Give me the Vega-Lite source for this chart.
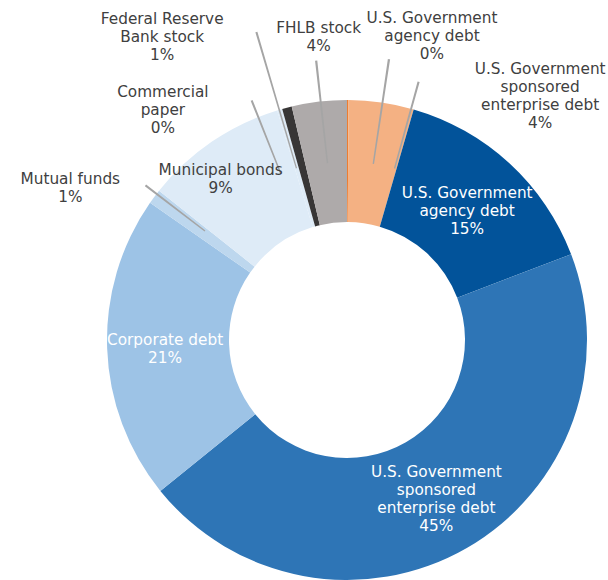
{
  "$schema": "https://vega.github.io/schema/vega-lite/v6.json",
  "width": 522,
  "height": 480,
  "autosize": {"type": "none"},
  "padding": {"left": 86, "top": 100, "right": 0, "bottom": 0},
  "background": "white",
  "config": {"view": {"stroke": null}},
  "data": {
    "values": [
      {"rank": 1, "segment": "agency0", "label": "U.S. Government\nagency debt\n0%", "value": 0.1},
      {"rank": 2, "segment": "gse4", "label": "U.S. Government\nsponsored\nenterprise debt\n4%", "value": 4.38},
      {"rank": 3, "segment": "agency15", "label": "U.S. Government\nagency debt\n15%", "value": 14.7},
      {"rank": 4, "segment": "gse45", "label": "U.S. Government\nsponsored\nenterprise debt\n45%", "value": 45.0},
      {"rank": 5, "segment": "corporate", "label": "Corporate debt\n21%", "value": 20.5},
      {"rank": 6, "segment": "mutual", "label": "Mutual funds\n1%", "value": 1.0},
      {"rank": 7, "segment": "municipal", "label": "Municipal bonds\n9%", "value": 9.62},
      {"rank": 8, "segment": "commercial", "label": "Commercial\npaper\n0%", "value": 0.35},
      {"rank": 9, "segment": "fed", "label": "Federal Reserve\nBank stock\n1%", "value": 0.65},
      {"rank": 10, "segment": "fhlb", "label": "FHLB stock\n4%", "value": 3.7}
    ]
  },
  "layer": [
    {
      "mark": {"type": "arc", "outerRadius": 240, "innerRadius": 118},
      "encoding": {
        "theta": {"field": "value", "type": "quantitative", "stack": true, "scale": {"domain": [0, 100]}},
        "order": {"field": "rank", "type": "quantitative"},
        "color": {
          "field": "segment", "type": "nominal", "legend": null,
          "scale": {
            "domain": ["agency0", "gse4", "agency15", "gse45", "corporate", "mutual", "municipal", "commercial", "fed", "fhlb"],
            "range": ["#ED7D31", "#F4B183", "#02539A", "#2E75B6", "#9DC3E6", "#BDD7EE", "#DEEBF7", "#DEEBF7", "#383636", "#AEAAAA"]
          }
        }
      }
    },
    {
      "transform": [{"stack": "value", "groupby": [], "sort": [{"field": "rank"}], "as": ["v0", "v1"]}, {"filter": "datum.segment === 'mutual'"}],
      "mark": {"type": "arc", "innerRadius": 179, "outerRadius": 254, "thetaOffset": 0.0423, "theta2Offset": 0.0503, "fill": "#A5A5A5"},
      "encoding": {"theta": {"field": "v0", "type": "quantitative", "scale": {"domain": [0, 100]}}, "theta2": {"field": "v0"}}
    },
    {
      "transform": [{"stack": "value", "groupby": [], "sort": [{"field": "rank"}], "as": ["v0", "v1"]}, {"filter": "datum.segment === 'commercial'"}],
      "mark": {"type": "arc", "innerRadius": 179, "outerRadius": 258, "thetaOffset": -0.0874, "theta2Offset": -0.0794, "fill": "#A5A5A5"},
      "encoding": {"theta": {"field": "v0", "type": "quantitative", "scale": {"domain": [0, 100]}}, "theta2": {"field": "v0"}}
    },
    {
      "transform": [{"stack": "value", "groupby": [], "sort": [{"field": "rank"}], "as": ["v0", "v1"]}, {"filter": "datum.segment === 'fed'"}],
      "mark": {"type": "arc", "innerRadius": 179, "outerRadius": 321, "thetaOffset": -0.0162, "theta2Offset": -0.0096, "fill": "#A5A5A5"},
      "encoding": {"theta": {"field": "v0", "type": "quantitative", "scale": {"domain": [0, 100]}}, "theta2": {"field": "v0"}}
    },
    {
      "transform": [{"stack": "value", "groupby": [], "sort": [{"field": "rank"}], "as": ["v0", "v1"]}, {"filter": "datum.segment === 'fhlb'"}],
      "mark": {"type": "arc", "innerRadius": 178, "outerRadius": 281, "thetaOffset": 0.1185, "theta2Offset": 0.1265, "fill": "#A5A5A5"},
      "encoding": {"theta": {"field": "v0", "type": "quantitative", "scale": {"domain": [0, 100]}}, "theta2": {"field": "v0"}}
    },
    {
      "transform": [{"stack": "value", "groupby": [], "sort": [{"field": "rank"}], "as": ["v0", "v1"]}, {"filter": "datum.segment === 'agency0'"}],
      "mark": {"type": "arc", "innerRadius": 178, "outerRadius": 284, "thetaOffset": 0.1444, "theta2Offset": 0.1524, "fill": "#A5A5A5"},
      "encoding": {"theta": {"field": "v0", "type": "quantitative", "scale": {"domain": [0, 100]}}, "theta2": {"field": "v0"}}
    },
    {
      "transform": [{"stack": "value", "groupby": [], "sort": [{"field": "rank"}], "as": ["v0", "v1"]}, {"filter": "datum.segment === 'gse4'"}],
      "mark": {"type": "arc", "innerRadius": 178, "outerRadius": 268, "thetaOffset": 0.2602, "theta2Offset": 0.2682, "fill": "#A5A5A5"},
      "encoding": {"theta": {"field": "v0", "type": "quantitative", "scale": {"domain": [0, 100]}}, "theta2": {"field": "v0"}}
    },
    {
      "mark": {"type": "text", "radius": 179, "dx": -1, "dy": -15, "font": "DejaVu Sans", "fontSize": 15.3, "lineHeight": 18, "lineBreak": "\n", "align": "center", "baseline": "middle", "color": "white"},
      "encoding": {
        "theta": {"field": "value", "type": "quantitative", "stack": true, "scale": {"domain": [0, 100]}},
        "order": {"field": "rank", "type": "quantitative"},
        "detail": {"field": "segment"},
        "text": {"condition": {"test": "datum.segment === 'agency15'", "field": "label"}, "value": ""}
      }
    },
    {
      "mark": {"type": "text", "radius": 179, "dx": 0, "dy": -23, "font": "DejaVu Sans", "fontSize": 15.3, "lineHeight": 18, "lineBreak": "\n", "align": "center", "baseline": "middle", "color": "white"},
      "encoding": {
        "theta": {"field": "value", "type": "quantitative", "stack": true, "scale": {"domain": [0, 100]}},
        "order": {"field": "rank", "type": "quantitative"},
        "detail": {"field": "segment"},
        "text": {"condition": {"test": "datum.segment === 'gse45'", "field": "label"}, "value": ""}
      }
    },
    {
      "mark": {"type": "text", "radius": 179, "dx": -3, "dy": -6, "font": "DejaVu Sans", "fontSize": 15.3, "lineHeight": 18, "lineBreak": "\n", "align": "center", "baseline": "middle", "color": "white"},
      "encoding": {
        "theta": {"field": "value", "type": "quantitative", "stack": true, "scale": {"domain": [0, 100]}},
        "order": {"field": "rank", "type": "quantitative"},
        "detail": {"field": "segment"},
        "text": {"condition": {"test": "datum.segment === 'corporate'", "field": "label"}, "value": ""}
      }
    },
    {
      "mark": {"type": "text", "radius": 305, "dx": 7, "dy": -9, "font": "DejaVu Sans", "fontSize": 15.3, "lineHeight": 18, "lineBreak": "\n", "align": "center", "baseline": "middle", "color": "#404040"},
      "encoding": {
        "theta": {"field": "value", "type": "quantitative", "stack": true, "scale": {"domain": [0, 100]}},
        "order": {"field": "rank", "type": "quantitative"},
        "detail": {"field": "segment"},
        "text": {"condition": {"test": "datum.segment === 'fhlb'", "field": "label"}, "value": ""}
      }
    },
    {
      "mark": {"type": "text", "radius": 304, "dx": 84, "dy": -18, "font": "DejaVu Sans", "fontSize": 15.3, "lineHeight": 18, "lineBreak": "\n", "align": "center", "baseline": "middle", "color": "#404040"},
      "encoding": {
        "theta": {"field": "value", "type": "quantitative", "stack": true, "scale": {"domain": [0, 100]}},
        "order": {"field": "rank", "type": "quantitative"},
        "detail": {"field": "segment"},
        "text": {"condition": {"test": "datum.segment === 'agency0'", "field": "label"}, "value": ""}
      }
    },
    {
      "mark": {"type": "text", "radius": 280, "dx": 153, "dy": 6, "font": "DejaVu Sans", "fontSize": 15.3, "lineHeight": 18, "lineBreak": "\n", "align": "center", "baseline": "middle", "color": "#404040"},
      "encoding": {
        "theta": {"field": "value", "type": "quantitative", "stack": true, "scale": {"domain": [0, 100]}},
        "order": {"field": "rank", "type": "quantitative"},
        "detail": {"field": "segment"},
        "text": {"condition": {"test": "datum.segment === 'gse4'", "field": "label"}, "value": ""}
      }
    },
    {
      "mark": {"type": "text", "radius": 303, "dx": -109, "dy": -28, "font": "DejaVu Sans", "fontSize": 15.3, "lineHeight": 18, "lineBreak": "\n", "align": "center", "baseline": "middle", "color": "#404040"},
      "encoding": {
        "theta": {"field": "value", "type": "quantitative", "stack": true, "scale": {"domain": [0, 100]}},
        "order": {"field": "rank", "type": "quantitative"},
        "detail": {"field": "segment"},
        "text": {"condition": {"test": "datum.segment === 'fed'", "field": "label"}, "value": ""}
      }
    },
    {
      "mark": {"type": "text", "radius": 250, "dx": -114, "dy": -8, "font": "DejaVu Sans", "fontSize": 15.3, "lineHeight": 18, "lineBreak": "\n", "align": "center", "baseline": "middle", "color": "#404040"},
      "encoding": {
        "theta": {"field": "value", "type": "quantitative", "stack": true, "scale": {"domain": [0, 100]}},
        "order": {"field": "rank", "type": "quantitative"},
        "detail": {"field": "segment"},
        "text": {"condition": {"test": "datum.segment === 'commercial'", "field": "label"}, "value": ""}
      }
    },
    {
      "mark": {"type": "text", "radius": 205, "dx": -11, "dy": -1, "font": "DejaVu Sans", "fontSize": 15.3, "lineHeight": 18, "lineBreak": "\n", "align": "center", "baseline": "middle", "color": "#404040"},
      "encoding": {
        "theta": {"field": "value", "type": "quantitative", "stack": true, "scale": {"domain": [0, 100]}},
        "order": {"field": "rank", "type": "quantitative"},
        "detail": {"field": "segment"},
        "text": {"condition": {"test": "datum.segment === 'municipal'", "field": "label"}, "value": ""}
      }
    },
    {
      "mark": {"type": "text", "radius": 300, "dx": -36, "dy": 18, "font": "DejaVu Sans", "fontSize": 15.3, "lineHeight": 18, "lineBreak": "\n", "align": "center", "baseline": "middle", "color": "#404040"},
      "encoding": {
        "theta": {"field": "value", "type": "quantitative", "stack": true, "scale": {"domain": [0, 100]}},
        "order": {"field": "rank", "type": "quantitative"},
        "detail": {"field": "segment"},
        "text": {"condition": {"test": "datum.segment === 'mutual'", "field": "label"}, "value": ""}
      }
    }
  ]
}
